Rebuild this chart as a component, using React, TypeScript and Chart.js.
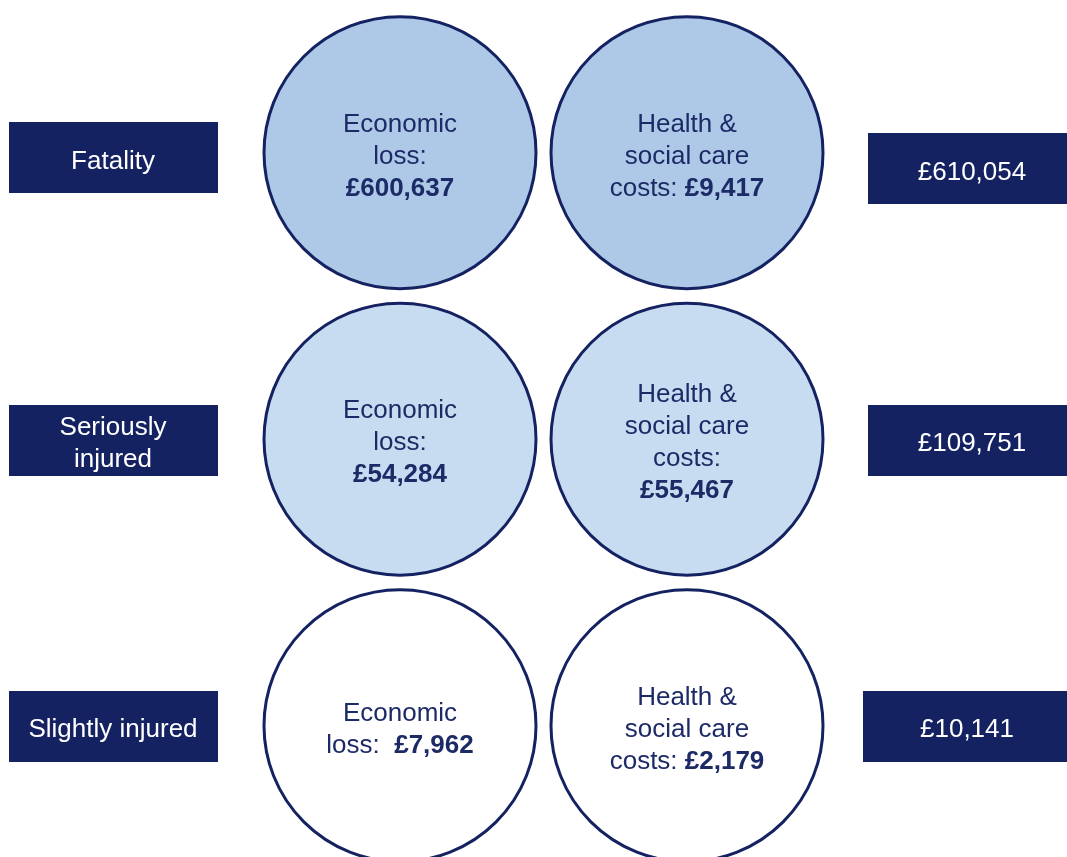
import React, { useEffect, useRef } from 'react';
import { Chart, registerables } from 'chart.js';

Chart.register(...registerables);

// ---- data ----
const categories = ['Fatality', 'Seriously injured', 'Slightly injured'];
const columns = ['Casualty', 'Economic loss', 'Health & social care costs', 'Total'];
const economicLoss = [600637, 54284, 7962];
const healthCareCosts = [9417, 55467, 2179];
const totalCost = [610054, 109751, 10141];

// ---- text wrapping (layout) ----
const categoryLines = [['Fatality'], ['Seriously', 'injured'], ['Slightly injured']];
const economicTemplates = [
  ['Economic', 'loss:', '{v}'],
  ['Economic', 'loss:', '{v}'],
  ['Economic', 'loss:  {v}'],
];
const healthTemplates = [
  ['Health &', 'social care', 'costs: {v}'],
  ['Health &', 'social care', 'costs:', '{v}'],
  ['Health &', 'social care', 'costs: {v}'],
];

// ---- styles ----
const NAVY = '#152262';
const TEXT = '#1c2a66';
const ROW_FILL = ['#adc9e7', '#c7dcf0', '#ffffff'];
const RADIUS = 136;
const BORDER = 3;
const BOX_W = 209;
const BOX_H = 71;
const LEFT_BOX_DY = [5, 1, 0.5];
const RIGHT_BOX_DY = [16, 1, 0.5];
const RIGHT_BOX_DX = [-2, -2, -7];
const FONT_FAMILY = '"Liberation Sans", Arial, Helvetica, sans-serif';
const FONT_SIZE = 26;
const LINE_H = 32;
const BASE_OFF = 11;

const fmt = (n: number) => '£' + String(n).replace(/\B(?=(\d{3})+(?!\d))/g, ',');

function drawLines(
  ctx: CanvasRenderingContext2D,
  lines: string[],
  value: string,
  cx: number,
  cy: number,
  color: string
) {
  const n = lines.length;
  ctx.fillStyle = color;
  ctx.textBaseline = 'alphabetic';
  ctx.textAlign = 'left';
  const normal = `${FONT_SIZE}px ${FONT_FAMILY}`;
  const bold = `bold ${FONT_SIZE}px ${FONT_FAMILY}`;
  lines.forEach((line, i) => {
    const y = cy + BASE_OFF + (i - (n - 1) / 2) * LINE_H;
    const idx = line.indexOf('{v}');
    const pre = idx >= 0 ? line.slice(0, idx) : line;
    const post = idx >= 0 ? line.slice(idx + 3) : '';
    const val = idx >= 0 ? value : '';
    ctx.font = normal;
    const wPre = ctx.measureText(pre).width;
    const wPost = ctx.measureText(post).width;
    ctx.font = bold;
    const wVal = ctx.measureText(val).width;
    let x = cx - (wPre + wVal + wPost) / 2;
    ctx.font = normal;
    ctx.fillText(pre, x, y);
    x += wPre;
    ctx.font = bold;
    ctx.fillText(val, x, y);
    x += wVal;
    ctx.font = normal;
    ctx.fillText(post, x, y);
  });
}

const overlayPlugin = {
  id: 'overlay',
  afterDatasetsDraw(chart: any) {
    const ctx: CanvasRenderingContext2D = chart.ctx;
    const xs = chart.scales.x;
    const ys = chart.scales.y;
    ctx.save();
    categories.forEach((cat, i) => {
      const cy = ys.getPixelForValue(i);
      // left category box
      const lx = xs.getPixelForValue(0);
      const ly = cy + LEFT_BOX_DY[i];
      ctx.fillStyle = NAVY;
      ctx.fillRect(Math.round(lx - BOX_W / 2), Math.round(ly - BOX_H / 2), BOX_W, BOX_H);
      drawLines(ctx, categoryLines[i], '', lx, ly, '#ffffff');
      // right total box
      const rx = xs.getPixelForValue(3) + RIGHT_BOX_DX[i];
      const ry = cy + RIGHT_BOX_DY[i];
      ctx.fillStyle = NAVY;
      ctx.fillRect(Math.round(rx - BOX_W / 2), Math.round(ry - BOX_H / 2), BOX_W + 20, BOX_H);
      drawLines(ctx, [fmt(totalCost[i])], '', rx, ry, '#ffffff');
      // circle texts
      drawLines(ctx, economicTemplates[i], fmt(economicLoss[i]), xs.getPixelForValue(1), cy, TEXT);
      drawLines(ctx, healthTemplates[i], fmt(healthCareCosts[i]), xs.getPixelForValue(2), cy, TEXT);
    });
    ctx.restore();
  },
};

export default function App() {
  const ref = useRef<HTMLCanvasElement | null>(null);
  useEffect(() => {
    document.body.style.margin = '0';
    const canvas = ref.current;
    if (!canvas) return;
    const pointStyleArgs = {
      pointRadius: RADIUS,
      pointHoverRadius: RADIUS,
      pointBorderWidth: BORDER,
      pointHoverBorderWidth: BORDER,
      pointBorderColor: NAVY,
      pointBackgroundColor: categories.map((_, i) => ROW_FILL[i]),
      pointStyle: 'circle' as const,
      clip: false,
    };
    const chart = new Chart(canvas, {
      type: 'scatter',
      data: {
        datasets: [
          {
            label: columns[1],
            data: categories.map((_, i) => ({ x: 1, y: i, v: economicLoss[i] })),
            ...pointStyleArgs,
          },
          {
            label: columns[2],
            data: categories.map((_, i) => ({ x: 2, y: i, v: healthCareCosts[i] })),
            ...pointStyleArgs,
          },
        ] as any,
      },
      options: {
        animation: false,
        responsive: false,
        events: [],
        layout: { padding: 0, autoPadding: false },
        plugins: { legend: { display: false }, tooltip: { enabled: false } },
        scales: {
          x: { type: 'linear', display: false, min: -0.39373, max: 3.32404 },
          y: { type: 'linear', display: false, reverse: true, min: -0.53288, max: 2.45839 },
        },
      },
      plugins: [overlayPlugin],
    });
    return () => chart.destroy();
  }, []);
  return (
    <div style={{ position: 'fixed', left: 0, top: 0, width: 1067, height: 857, background: '#ffffff' }}>
      <canvas ref={ref} width={1067} height={857} style={{ display: 'block' }} />
    </div>
  );
}
